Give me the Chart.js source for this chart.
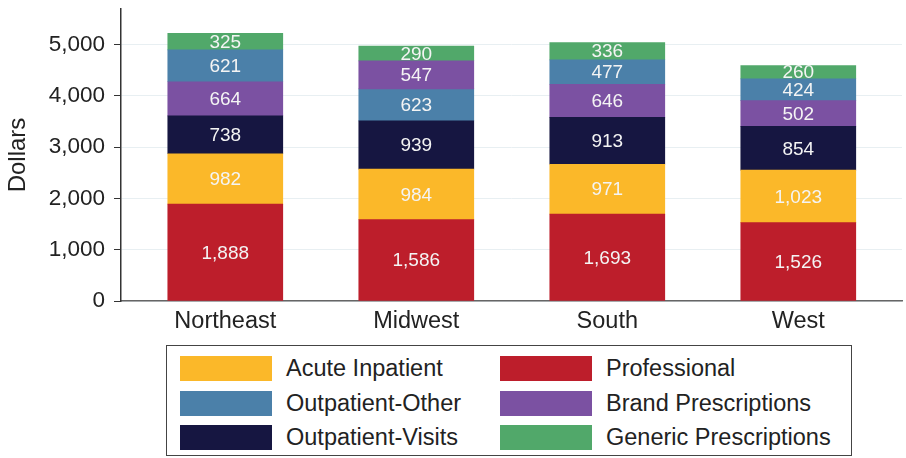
<!DOCTYPE html>
<html>
<head>
<meta charset="utf-8">
<script src="https://cdn.jsdelivr.net/npm/chart.js@4.4.0/dist/chart.umd.min.js"></script>
<style>
  body { margin: 0; background: #fff; }
  #wrap { position: relative; width: 906px; height: 458px; }
  #legend {
    position: absolute; left: 166px; top: 345px; width: 686px; height: 111px;
    box-sizing: border-box; border: 1px solid #444; background: #fff;
    font-family: "Liberation Sans", Arial, sans-serif; font-size: 23.5px; color: #222;
  }
  .item { position: absolute; display: flex; align-items: center; height: 25px; white-space: nowrap; }
  .swatch { width: 92px; height: 25px; margin-right: 14px; flex: none; }
</style>
</head>
<body>
<div id="wrap">
  <canvas id="myChart" width="906" height="458"></canvas>
  <div id="legend"></div>
</div>
<script>
// データ
const regions = ["Northeast", "Midwest", "South", "West"];
const professional = [1888, 1586, 1693, 1526];
const acuteInpatient = [982, 984, 971, 1023];
const outpatientVisits = [738, 939, 913, 854];
const brandPrescriptions = [664, 547, 646, 502];
const outpatientOther = [621, 623, 477, 424];
const genericPrescriptions = [325, 290, 336, 260];
const yTicks = [0, 1000, 2000, 3000, 4000, 5000];

// 下から上への積み上げ順(Midwestだけ Outpatient-Other が Brand の下)
const baseOrder = ["Professional", "Acute Inpatient", "Outpatient-Visits", "Brand Prescriptions", "Outpatient-Other", "Generic Prescriptions"];
const midwestOrder = ["Professional", "Acute Inpatient", "Outpatient-Visits", "Outpatient-Other", "Brand Prescriptions", "Generic Prescriptions"];
const stackOrder = [baseOrder, midwestOrder, baseOrder, baseOrder];

// 凡例の並び順
const legendOrder = ["Acute Inpatient", "Professional", "Outpatient-Other", "Brand Prescriptions", "Outpatient-Visits", "Generic Prescriptions"];

const series = [
  { label: "Professional", values: professional, color: "#bd1e2b" },
  { label: "Acute Inpatient", values: acuteInpatient, color: "#fbb829" },
  { label: "Outpatient-Visits", values: outpatientVisits, color: "#161641" },
  { label: "Brand Prescriptions", values: brandPrescriptions, color: "#7b51a2" },
  { label: "Outpatient-Other", values: outpatientOther, color: "#4b80a9" },
  { label: "Generic Prescriptions", values: genericPrescriptions, color: "#51a86a" },
];

const FONT = '"Liberation Sans", Arial, sans-serif';

function valueOf(label, i) {
  return series.find((s) => s.label === label).values[i];
}

// 積み上げ位置を順番から計算してfloating barにする
const datasets = series.map((s) => ({
  label: s.label,
  backgroundColor: s.color,
  borderWidth: 0,
  barThickness: 115,
  grouped: false,
  data: regions.map((r, i) => {
    let lo = 0;
    for (const name of stackOrder[i]) {
      if (name === s.label) break;
      lo += valueOf(name, i);
    }
    return { x: i, y: [lo, lo + s.values[i]], v: s.values[i] };
  }),
}));

// バーの中に数値を描く
const barLabels = {
  id: "barLabels",
  afterDatasetsDraw(chart) {
    const ctx = chart.ctx;
    ctx.save();
    ctx.font = "19px " + FONT;
    ctx.fillStyle = "#f4f4f4";
    ctx.textAlign = "center";
    ctx.textBaseline = "middle";
    chart.data.datasets.forEach((ds, di) => {
      chart.getDatasetMeta(di).data.forEach((el, i) => {
        ctx.fillText(ds.data[i].v.toLocaleString("en-US"), el.x, (el.y + el.base) / 2 + 1);
      });
    });
    ctx.restore();
  },
};

// 目盛ラベルのはみ出し分の余白を消す
function noScalePadding(scale) {
  scale.paddingTop = 0;
  scale.paddingBottom = 0;
  scale.paddingLeft = 0;
  scale.paddingRight = 0;
}

const ctx = document.getElementById("myChart").getContext("2d");
const chart = new Chart(ctx, {
  type: "bar",
  data: { datasets: datasets },
  plugins: [barLabels],
  options: {
    responsive: false,
    animation: false,
    layout: { padding: { top: 9, right: 4, left: 0, bottom: 0 } },
    plugins: { legend: { display: false }, tooltip: { enabled: false } },
    scales: {
      x: {
        type: "linear",
        offset: false,
        min: -0.546,
        max: 3.543,
        afterBuildTicks: (axis) => { axis.ticks = regions.map((r, i) => ({ value: i })); },
        afterFit: (scale) => { scale.height = 157; noScalePadding(scale); },
        grid: { display: false, drawTicks: false },
        border: { display: true, color: "#666", width: 1.5 },
        ticks: {
          autoSkip: false,
          maxRotation: 0,
          padding: 6,
          color: "#222",
          font: { family: FONT, size: 23.5 },
          callback: (v) => regions[v],
        },
      },
      y: {
        min: 0,
        max: 5690,
        afterBuildTicks: (axis) => { axis.ticks = yTicks.map((v) => ({ value: v })); },
        afterFit: (scale) => { scale.width = 121; noScalePadding(scale); },
        grid: { color: "#e8eff2", lineWidth: 1, tickColor: "#333", tickLength: 7 },
        border: { color: "#333", width: 1.5 },
        ticks: {
          padding: 9,
          color: "#222",
          font: { family: FONT, size: 22.5 },
          callback: (v) => v.toLocaleString("en-US"),
        },
        title: {
          display: true,
          text: "Dollars",
          color: "#222",
          padding: { top: 4, bottom: 0 },
          font: { family: FONT, size: 24 },
        },
      },
    },
  },
});

// 凡例(2列×3行)
const legend = document.getElementById("legend");
legendOrder.forEach((name, k) => {
  const s = series.find((x) => x.label === name);
  const item = document.createElement("div");
  item.className = "item";
  item.style.left = (k % 2 === 0 ? 13 : 333) + "px";
  item.style.top = (10 + Math.floor(k / 2) * 34.5) + "px";
  item.innerHTML = `<span class="swatch" style="background:${s.color}"></span><span>${name}</span>`;
  legend.appendChild(item);
});
</script>
</body>
</html>
